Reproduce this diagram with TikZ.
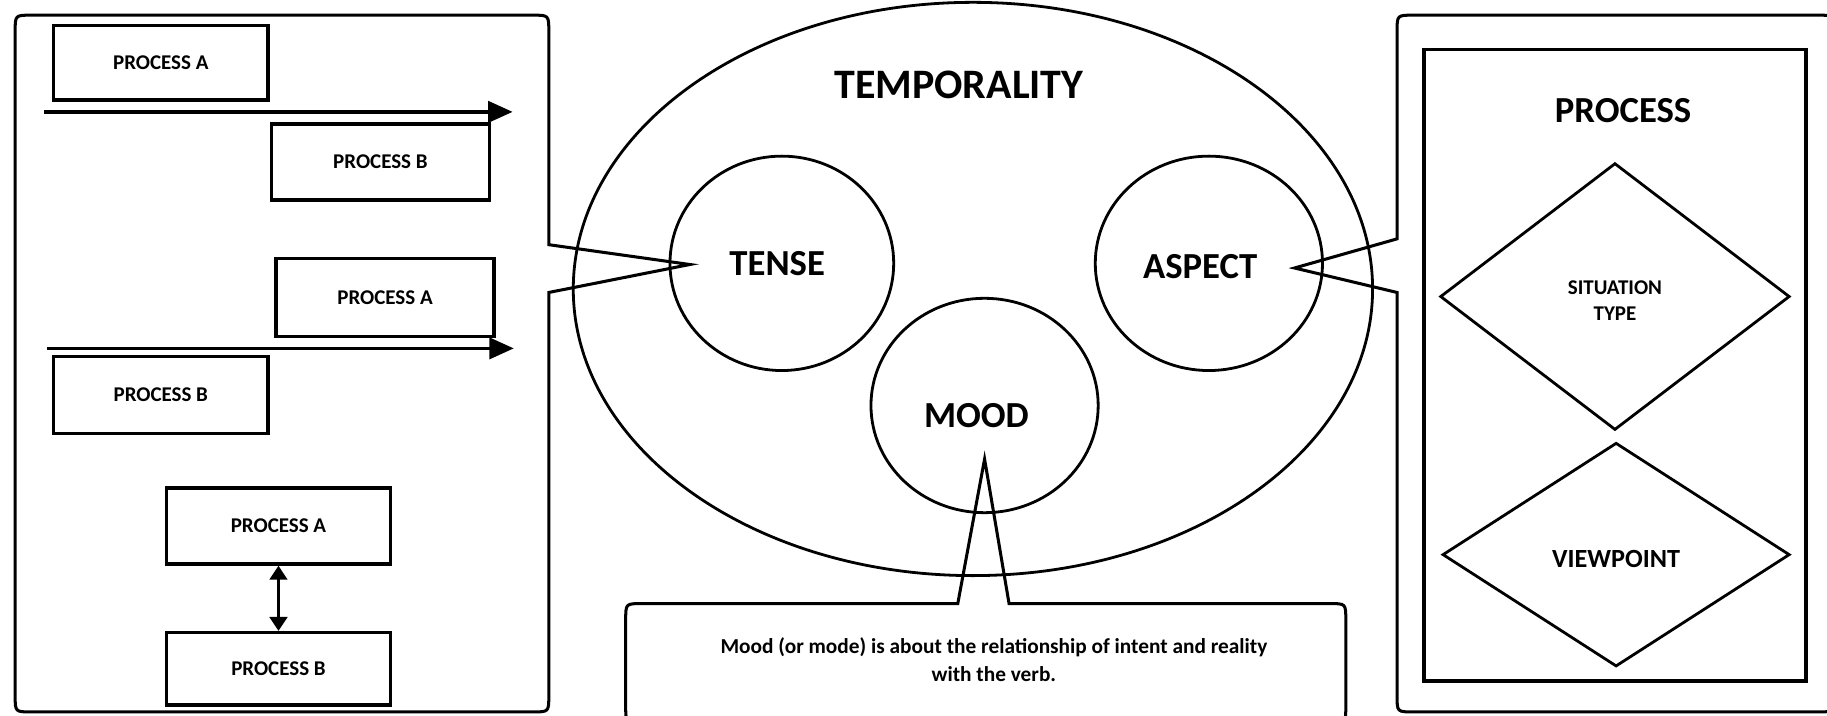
\documentclass[tikz,border=0pt]{standalone}
\usepackage{fontspec}
\setmainfont{Carlito}
\usetikzlibrary{arrows.meta,shapes.geometric}
\begin{document}
\begin{tikzpicture}[x=1pt,y=-1pt,
  pbox/.style={draw,line width=3pt,rectangle,inner sep=0pt,font=\bfseries\fontsize{18}{20}\selectfont},
  ring/.style={draw,line width=2.4pt,ellipse,inner sep=0pt},
  dia/.style={draw,line width=2.4pt,diamond,inner sep=0pt},
  callout/.style={draw,line width=2.6pt,line join=miter},
  big/.style={font=\bfseries\fontsize{31.5}{34}\selectfont},
  flow/.style={line width=3.2pt,-{Triangle[length=21pt,width=18pt]}},
  both/.style={line width=2.8pt,{Triangle[length=12pt,width=15pt]}-{Triangle[length=12pt,width=15pt]}}
]
\useasboundingbox (0,0) rectangle (1568,613.7);

% left callout
\coordinate (tenseTip) at (592,227);
\draw[callout] (tenseTip) -- (471,251) -- (471,597) .. controls (471,611) .. (457,611) -- (27,611)
  .. controls (13,611) .. (13,597) -- (13,27) .. controls (13,13) .. (27,13) -- (457,13)
  .. controls (471,13) .. (471,27) -- (471,210) -- cycle;

% right callout
\coordinate (aspTip) at (1111,230);
\draw[callout] (aspTip) -- (1199,205) -- (1199,27) .. controls (1199,13) .. (1213,13) -- (1560,13)
  .. controls (1574,13) .. (1574,27) -- (1574,597) .. controls (1574,611) .. (1560,611) -- (1213,611)
  .. controls (1199,611) .. (1199,597) -- (1199,251) -- cycle;

% mood callout
\coordinate (moodTip) at (845,394);
\draw[callout] (moodTip) -- (866,518) -- (1141,518) .. controls (1155,518) .. (1155,532) -- (1155,606)
  .. controls (1155,620) .. (1141,620) -- (551,620) .. controls (537,620) .. (537,606) -- (537,532)
  .. controls (537,518) .. (551,518) -- (822,518) -- cycle;

% left panel boxes
\node[pbox,minimum width=184pt,minimum height=64pt] (pa1) at (138,54) {PROCESS A};
\node[pbox,minimum width=187pt,minimum height=65.5pt] (pb1) at (326.5,139) {PROCESS B};
\node[pbox,minimum width=187pt,minimum height=67pt] (pa2) at (330.5,255.5) {PROCESS A};
\node[pbox,minimum width=184pt,minimum height=66pt] (pb2) at (138,339) {PROCESS B};
\node[pbox,minimum width=192pt,minimum height=65pt] (pa3) at (239,451.5) {PROCESS A};
\node[pbox,minimum width=192pt,minimum height=62pt] (pb3) at (239,574) {PROCESS B};

\coordinate (a1s) at (38,96);
\coordinate (a1e) at (440,96);
\coordinate (a2s) at (40,299);
\coordinate (a2e) at (441,299);
\draw[flow] (a1s) -- (a1e);
\draw[flow] (a2s) -- (a2e);
\draw[both] (pa3.south) -- (pb3.north);

% temporality
\node[ring,minimum width=686pt,minimum height=492pt] (temp) at (835,248) {};
\node[font=\bfseries\fontsize{36}{40}\selectfont] (tempLbl) at (823,73) {TEMPORALITY};
\node[ring,minimum width=192pt,minimum height=184pt] (tense) at (671,226) {};
\node[big] (tenseLbl) at (667,226) {TENSE};
\node[ring,minimum width=195pt,minimum height=184pt] (aspect) at (1037.5,226) {};
\node[big] (aspectLbl) at (1030,229) {ASPECT};
\node[ring,minimum width=195pt,minimum height=184pt] (mood) at (845,348) {};
\node[big] (moodLbl) at (838,357) {MOOD};

\node[align=center,font=\bfseries\fontsize{18.3}{23.5}\selectfont] (moodTxt) at (853,566)
  {Mood (or mode) is about the relationship of intent and reality\\with the verb.};

% process panel
\node[draw,line width=3pt,rectangle,minimum width=328pt,minimum height=542pt,inner sep=0pt] (proc) at (1386,313.5) {};
\node[big] (procLbl) at (1393,95) {PROCESS};
\node[dia,minimum width=300pt,minimum height=229pt] (sit) at (1386,254.5) {};
\node[align=center,font=\bfseries\fontsize{18}{23}\selectfont] (sitLbl) at (1386,258) {SITUATION\\TYPE};
\node[dia,minimum width=298pt,minimum height=192pt] (view) at (1387,476) {};
\node[font=\bfseries\fontsize{22.5}{26}\selectfont] (viewLbl) at (1387,480) {VIEWPOINT};
\end{tikzpicture}
\end{document}
